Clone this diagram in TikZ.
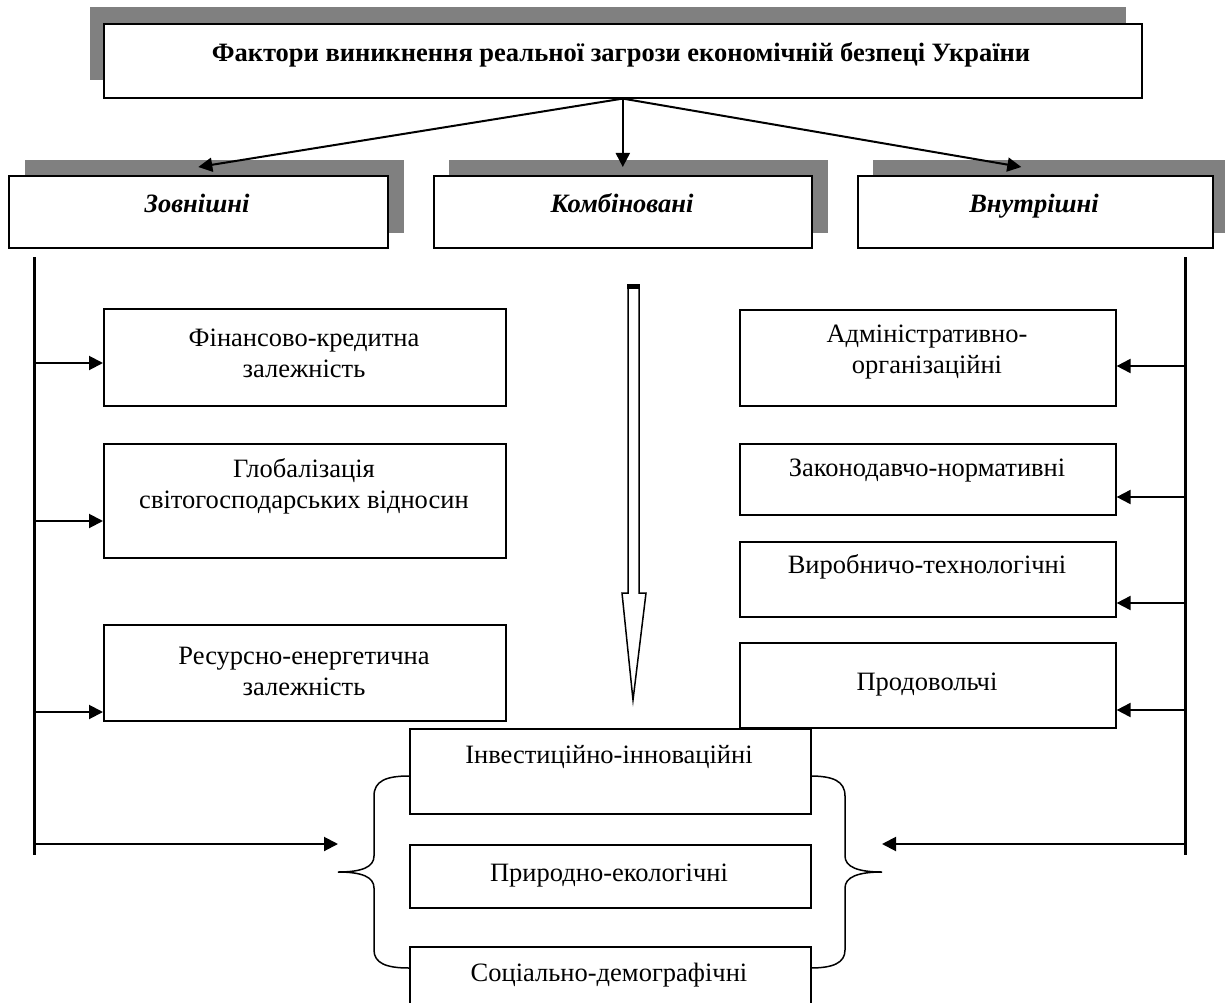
\documentclass[tikz,border=0pt]{standalone}
\usepackage{fontspec}
\setmainfont{Liberation Serif}
\usetikzlibrary{arrows.meta}
\definecolor{shadowgrey}{HTML}{808080}
\begin{document}
\begin{tikzpicture}[x=1pt,y=-1pt,
  box/.style={draw, line width=1.6pt, fill=white, inner sep=0pt, anchor=north west},
  shad/.style={fill=shadowgrey, draw=none},
  txt/.style={font=\fontsize{26.5}{31}\selectfont, align=center, inner sep=0pt},
  one/.style={txt, text height=19pt, text depth=6pt},
  head/.style={font=\fontsize{26.5}{31}\selectfont\bfseries\itshape, inner sep=0pt, text height=19pt, text depth=6pt},
  ttl/.style={font=\fontsize{26.5}{31}\selectfont\bfseries, inner sep=0pt, text height=19pt, text depth=6pt},
  conn/.style={line width=2pt, -{Triangle[length=14pt,width=14pt]}},
  vline/.style={line width=3pt},
  brace/.style={line width=1.5pt},
  hollow/.style={line width=1.5pt, fill=white}]
\useasboundingbox (0,0) rectangle (1225,1003);

% shadows
\fill[shad] (90,7) rectangle (1126,80);
\fill[shad] (25,160) rectangle (404,233);
\fill[shad] (449,160) rectangle (828,233);
\fill[shad] (873,160) rectangle (1225,233);

% header boxes
\node[box, minimum width=1038, minimum height=74] (top) at (103,23) {};
\node[ttl] (topt) at (621,55) {Фактори виникнення реальної загрози економічній безпеці України};
\node[box, minimum width=379, minimum height=72] (zov) at (8,175) {};
\node[head] (zovt) at (197,206) {Зовнішні};
\node[box, minimum width=378, minimum height=72] (kom) at (433,175) {};
\node[head] (komt) at (622,206) {Комбіновані};
\node[box, minimum width=355, minimum height=72] (vnu) at (857,175) {};
\node[head] (vnut) at (1034,206) {Внутрішні};

% left boxes
\node[box, minimum width=402, minimum height=97] (fin) at (103,308) {};
\node[txt] (fint) at (304,353) {Фінансово-кредитна\\залежність};
\node[box, minimum width=402, minimum height=114] (glob) at (103,443) {};
\node[txt] (globt) at (304,486) {Глобалізація\\світогосподарських відносин};
\node[box, minimum width=402, minimum height=96] (res) at (103,624) {};
\node[txt] (rest) at (304,671) {Ресурсно-енергетична\\залежність};

% right boxes
\node[box, minimum width=376, minimum height=96] (adm) at (739,309) {};
\node[txt] (admt) at (927,352) {Адміністративно-\\організаційні};
\node[box, minimum width=376, minimum height=71] (zak) at (739,443) {};
\node[one] (zakt) at (927,470) {Законодавчо-нормативні};
\node[box, minimum width=376, minimum height=75] (vyr) at (739,541) {};
\node[one] (vyrt) at (927,567) {Виробничо-технологічні};
\node[box, minimum width=376, minimum height=85] (prod) at (739,642) {};
\node[one] (prodt) at (927,684) {Продовольчі};

% centre boxes
\node[box, minimum width=401, minimum height=85] (inv) at (409,728) {};
\node[one] (invt) at (609,757) {Інвестиційно-інноваційні};
\node[box, minimum width=401, minimum height=63] (pry) at (409,844) {};
\node[one] (pryt) at (609,875) {Природно-екологічні};
\node[box, minimum width=401, minimum height=80] (soc) at (409,946) {};
\node[one] (soct) at (609,975) {Соціально-демографічні};

% arrows from title
\draw[conn] (top.south) -- ([yshift=8pt]zov.north);
\draw[conn] (top.south) -- ([yshift=8pt]kom.north);
\draw[conn] (top.south) -- ([yshift=8pt,xshift=-14pt]vnu.north);

% vertical bus lines
\coordinate (lt) at (34,257);
\coordinate (lb) at (34,855);
\coordinate (rt) at (1185,257);
\coordinate (rb) at (1185,855);
\draw[vline] (lt) -- (lb);
\draw[vline] (rt) -- (rb);

% level coordinates
\coordinate (y1) at (0,363);
\coordinate (y2) at (0,521);
\coordinate (y3) at (0,712);
\coordinate (r1) at (0,366);
\coordinate (r2) at (0,497);
\coordinate (r3) at (0,603);
\coordinate (r4) at (0,710);
\coordinate (yb) at (0,844);

\draw[conn] (lt |- y1) -- (fin.west |- y1);
\draw[conn] (lt |- y2) -- (glob.west |- y2);
\draw[conn] (lt |- y3) -- (res.west |- y3);
\draw[conn] (rt |- r1) -- (adm.east |- r1);
\draw[conn] (rt |- r2) -- (zak.east |- r2);
\draw[conn] (rt |- r3) -- (vyr.east |- r3);
\draw[conn] (rt |- r4) -- (prod.east |- r4);

% braces
\coordinate (lbt) at (338,872);
\coordinate (rbt) at (882,872);
\draw[brace] (409,776) .. controls (386,776) and (374,781) .. (374,796) -- (374,856)
  .. controls (374,867) and (362,872) .. (lbt)
  .. controls (362,872) and (374,877) .. (374,888) -- (374,950)
  .. controls (374,963) and (386,968) .. (409,968);
\draw[brace] (810,776) .. controls (833,776) and (845,781) .. (845,796) -- (845,856)
  .. controls (845,867) and (858,872) .. (rbt)
  .. controls (858,872) and (845,877) .. (845,888) -- (845,950)
  .. controls (845,963) and (833,968) .. (810,968);

\draw[conn] (lt |- yb) -- (lbt |- yb);
\draw[conn] (rt |- yb) -- (rbt |- yb);

% hollow combined arrow
\draw[hollow] (628,288) -- (628,593) -- (622,593) -- (633,700) -- (646,593) -- (639,593) -- (639,288) -- cycle;
\fill (627,284) rectangle (640,289);
\end{tikzpicture}
\end{document}
